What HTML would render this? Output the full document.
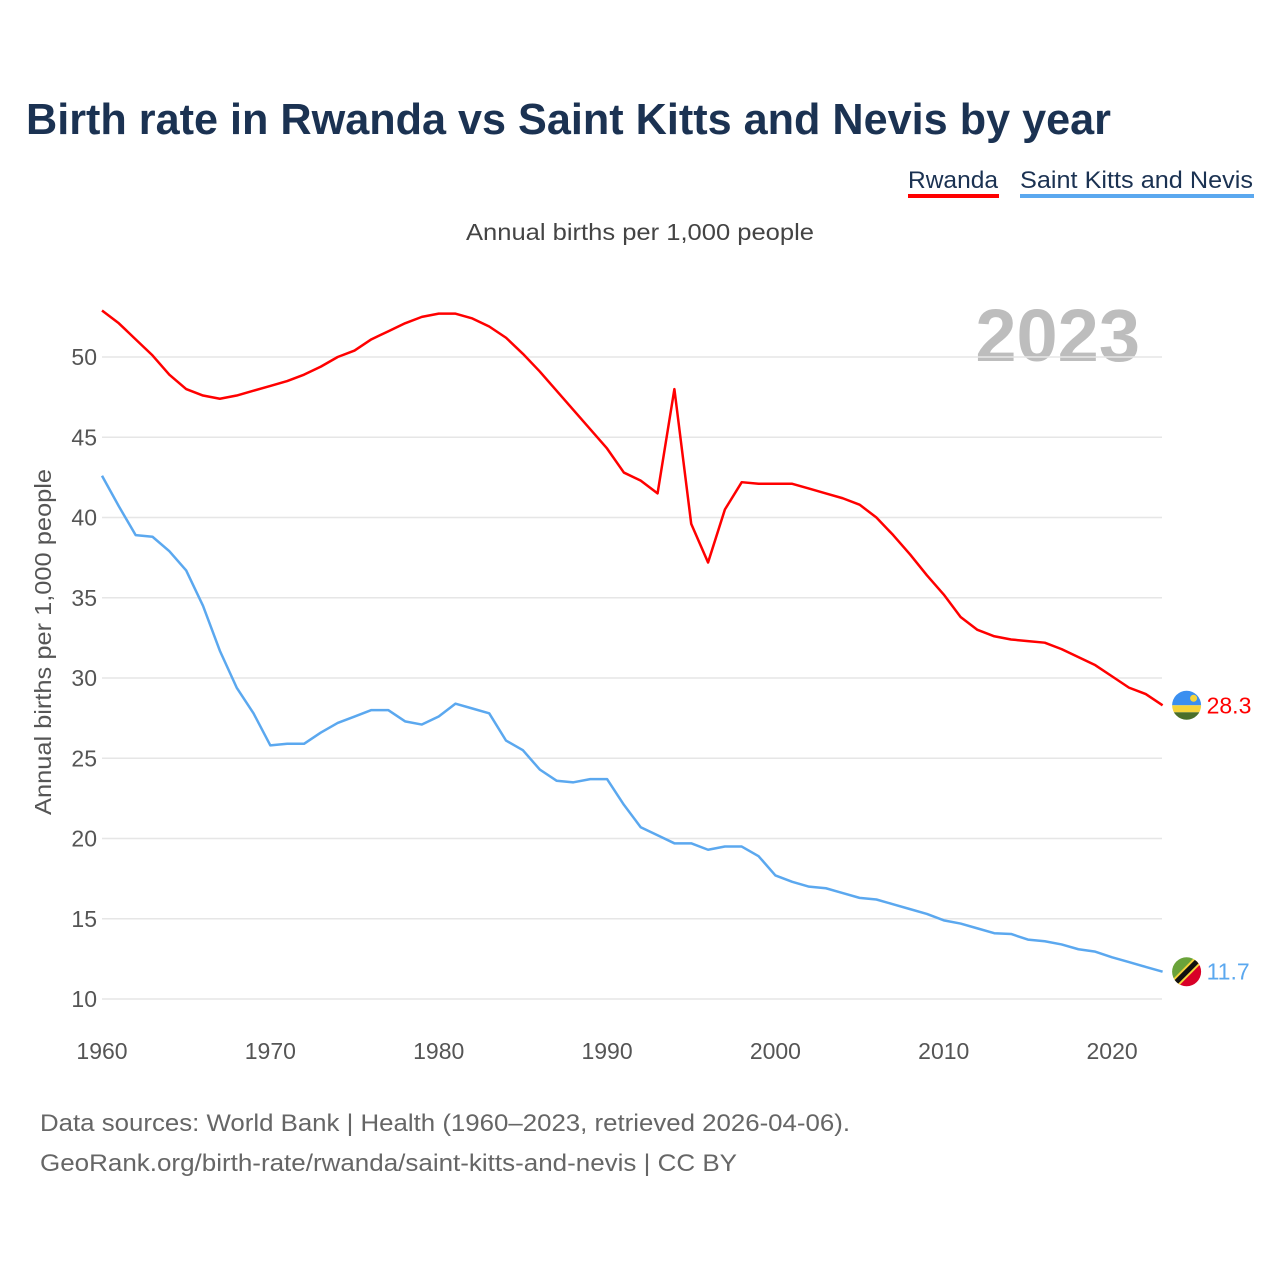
<!DOCTYPE html>
<html><head><meta charset="utf-8"><style>
body{margin:0;background:#fff;width:1280px;height:1280px;overflow:hidden;font-family:"Liberation Sans",sans-serif}
</style></head><body>
<svg id="chart" width="1280" height="1280" xmlns="http://www.w3.org/2000/svg">
<text x="26" y="134" font-size="44" font-weight="bold" fill="#1b3252" textLength="1085" lengthAdjust="spacingAndGlyphs">Birth rate in Rwanda vs Saint Kitts and Nevis by year</text>
<g>
<text x="908" y="188" font-size="24" fill="#1b3252" textLength="90" lengthAdjust="spacingAndGlyphs">Rwanda</text>
<rect x="908" y="194" width="91" height="4" fill="#ff0000"/>
<text x="1020" y="188" font-size="24" fill="#1b3252" textLength="233" lengthAdjust="spacingAndGlyphs">Saint Kitts and Nevis</text>
<rect x="1020" y="194" width="234" height="4" fill="#5ba8ef"/>
</g>
<text x="466" y="240" font-size="23" fill="#444" textLength="348" lengthAdjust="spacingAndGlyphs">Annual births per 1,000 people</text>
<text x="1140" y="361" font-size="74" font-weight="bold" fill="#bdbdbd" text-anchor="end">2023</text>
<text transform="translate(51,815) rotate(-90)" font-size="23" fill="#555" textLength="346" lengthAdjust="spacingAndGlyphs">Annual births per 1,000 people</text>
<g id="grid"></g><g id="lines"></g><g id="ends"></g>
<text x="40" y="1131" font-size="24" fill="#666" textLength="810" lengthAdjust="spacingAndGlyphs">Data sources: World Bank | Health (1960–2023, retrieved 2026-04-06).</text>
<text x="40" y="1171" font-size="24" fill="#666" textLength="697" lengthAdjust="spacingAndGlyphs">GeoRank.org/birth-rate/rwanda/saint-kitts-and-nevis | CC BY</text>
</svg>
<script>
const years=[];for(let y=1960;y<=2023;y++)years.push(y);
const rwanda=[52.9,52.1,51.1,50.1,48.9,48.0,47.6,47.4,47.6,47.9,48.2,48.5,48.9,49.4,50.0,50.4,51.1,51.6,52.1,52.5,52.7,52.7,52.4,51.9,51.2,50.2,49.1,47.9,46.7,45.5,44.3,42.8,42.3,41.5,48.0,39.6,37.2,40.5,42.2,42.1,42.1,42.1,41.8,41.5,41.2,40.8,40.0,38.9,37.7,36.4,35.2,33.8,33.0,32.6,32.4,32.3,32.2,31.8,31.3,30.8,30.1,29.4,29.0,28.3];
const stkitts=[42.6,40.7,38.9,38.8,37.9,36.7,34.5,31.7,29.4,27.8,25.8,25.9,25.9,26.6,27.2,27.6,28.0,28.0,27.3,27.1,27.6,28.4,28.1,27.8,26.1,25.5,24.3,23.6,23.5,23.7,23.7,22.1,20.7,20.2,19.7,19.7,19.3,19.5,19.5,18.9,17.7,17.3,17.0,16.9,16.6,16.3,16.2,15.9,15.6,15.3,14.9,14.7,14.4,14.1,14.05,13.7,13.6,13.4,13.1,12.95,12.6,12.3,12.0,11.7];
const yTicks=[10,15,20,25,30,35,40,45,50];
const xTicks=[1960,1970,1980,1990,2000,2010,2020];
const X=y=>102+(y-1960)*16.835, Y=v=>999-(v-10)*16.05;
const NS="http://www.w3.org/2000/svg";
function mk(t,a,p){const e=document.createElementNS(NS,t);for(const k in a)e.setAttribute(k,a[k]);p.appendChild(e);return e;}
const grid=document.getElementById('grid');
yTicks.forEach(v=>{
 const l=mk('line',{x1:102,x2:1162,y1:Y(v),y2:Y(v),stroke:'#e6e6e6','stroke-width':1.5},grid);
 
 
 const t=mk('text',{x:97,y:Y(v)+8,'font-size':23,fill:'#555','text-anchor':'end'},grid);t.textContent=v;
 
 
});
xTicks.forEach(v=>{
 const t=mk('text',{x:X(v),y:1059,'font-size':23,fill:'#555','text-anchor':'middle'},grid);t.textContent=v;
 
 
});
const lines=document.getElementById('lines');
function series(d,c,n){
 const p=mk('polyline',{points:d.map((v,i)=>X(years[i])+','+Y(v)).join(' '),fill:'none',stroke:c,'stroke-width':2.5,'stroke-linejoin':'round'},lines);
 
 
}
series(rwanda,'#ff0000','line-rwanda');series(stkitts,'#5ba8ef','line-saint-kitts');
const ends=document.getElementById('ends');
const rv=rwanda[rwanda.length-1], sv=stkitts[stkitts.length-1];
const ex=X(2023);
const cy1=Y(rv);
let g=mk('g',{},ends);


const cp1=mk('clipPath',{id:'c1'},g);mk('circle',{cx:ex+24,cy:cy1,r:14.5},cp1);
mk('rect',{x:ex+9,y:cy1-15,width:30,height:15,fill:'#3a8ff0','clip-path':'url(#c1)'},g);
mk('rect',{x:ex+9,y:cy1,width:30,height:7,fill:'#f5d43a','clip-path':'url(#c1)'},g);
mk('rect',{x:ex+9,y:cy1+7,width:30,height:9,fill:'#4a6e2a','clip-path':'url(#c1)'},g);
mk('circle',{cx:ex+31,cy:cy1-7,r:3.5,fill:'#f5d43a'},g);
const t1=mk('text',{x:ex+44,y:cy1+8,'font-size':23,fill:'#ff0000'},ends);t1.textContent=rv.toFixed(1);


const cy2=Y(sv);
g=mk('g',{},ends);


const cp=mk('clipPath',{id:'c2'},g);mk('circle',{cx:ex+24,cy:cy2,r:14.5},cp);
mk('polygon',{points:`${ex+9},${cy2-15} ${ex+39},${cy2-15} ${ex+9},${cy2+15}`,fill:'#6aa33a','clip-path':'url(#c2)'},g);
mk('polygon',{points:`${ex+39},${cy2-15} ${ex+39},${cy2+15} ${ex+9},${cy2+15}`,fill:'#d80027','clip-path':'url(#c2)'},g);
mk('line',{x1:ex+9,y1:cy2+15,x2:ex+39,y2:cy2-15,stroke:'#f5d43a','stroke-width':9,'clip-path':'url(#c2)'},g);
mk('line',{x1:ex+9,y1:cy2+15,x2:ex+39,y2:cy2-15,stroke:'#111','stroke-width':5,'clip-path':'url(#c2)'},g);
const t2=mk('text',{x:ex+44,y:cy2+8,'font-size':23,fill:'#5ba8ef'},ends);t2.textContent=sv.toFixed(1);


</script>
</body></html>
